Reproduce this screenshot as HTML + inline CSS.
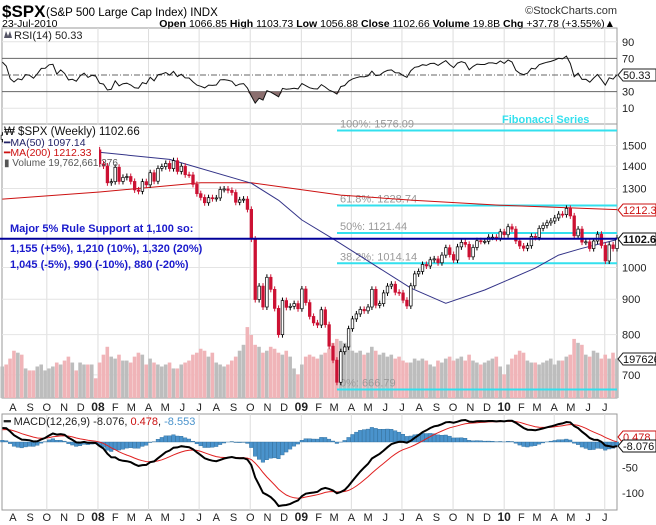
<!DOCTYPE html>
<html><head><meta charset="utf-8"><style>
body{margin:0;background:#fff;}
svg{display:block;font-family:"Liberation Sans",sans-serif;}
</style></head><body>
<svg id="c" width="656" height="525" viewBox="0 0 656 525" xmlns="http://www.w3.org/2000/svg">
<rect x="0" y="0" width="656" height="525" fill="#fff"/>
<g>
<text x="2" y="17" font-size="17" font-weight="bold">$SPX</text>
<text x="46" y="16" font-size="11.5">(S&amp;P 500 Large Cap Index) INDX</text>
<text x="617" y="14" font-size="11" text-anchor="end" fill="#333">©StockCharts.com</text>
<text x="2" y="27" font-size="10.5">23-Jul-2010</text>
<text x="615" y="27" font-size="10.5" text-anchor="end"><tspan font-weight="bold">Open</tspan> 1066.85 <tspan font-weight="bold">High</tspan> 1103.73 <tspan font-weight="bold">Low</tspan> 1056.88 <tspan font-weight="bold">Close</tspan> 1102.66 <tspan font-weight="bold">Volume</tspan> 19.8B <tspan font-weight="bold">Chg</tspan> +37.78 (+3.55%)▲</text>
</g>
<g id="grid"></g>
<g id="rsi"></g>
<g id="vol"></g>
<g id="main"></g>
<g id="macd"></g>
<g id="labels"></g>
</svg>
<script>
const warmupCloses=[1418,1409,1430,1431,1422,1448,1438,1456,1451,1407,1402,1387,1402,1420,1444,1452,1484,1494,1505,1522,1515,1536,1531,1507,1533,1502,1503,1531];
const closes=[1552,1534,1459,1433,1453,1445,1479,1474,1454,1484,1525,1527,1557,1561,1500,1535,1509,1453,1458,1440,1481,1504,
1467,1484,1478,
1411,1401,1325,1330,1395,1331,1349,1353,1331,1294,1288,1330,1316,1370,1332,1390,1398,1413,1389,1426,1376,1400,1361,1360,1318,1278,1262,1240,1261,1257,1260,1296,1298,1292,1283,1242,1252,1255,1213,1099,899,940,877,968,930,873,800,896,876,879,887,872,
931,890,850,832,826,869,827,770,735,683,756,768,816,843,857,870,866,877,930,882,887,919,940,946,921,919,897,880,941,979,987,1010,1005,1026,1029,1016,1042,1068,1044,1025,1071,1087,1080,1036,1069,1093,1091,1091,1106,1106,1102,1126,1115,
1145,1136,1092,1074,1066,1075,1109,1105,1139,1150,1160,1167,1179,1194,1192,1217,1187,1111,1136,1088,1089,1065,1092,1117,1076,1022,1078,1065,1103];
const volumes=[16,17,20,24,23,22,15,14,14,16,17,14,15,16,18,17,19,21,18,14,18,17,
17,17,10,
18,22,26,21,20,22,19,19,18,21,23,22,17,20,18,17,16,17,18,15,15,17,18,19,22,23,25,24,21,23,18,17,16,17,19,21,24,27,36,32,27,26,23,24,26,25,23,22,24,21,15,12,
17,21,22,21,20,22,23,25,28,30,29,28,27,24,23,24,22,23,26,24,22,23,21,22,20,21,19,18,18,20,19,20,19,17,16,19,18,20,21,19,20,21,19,22,19,18,17,18,19,20,21,16,12,
17,20,22,24,23,19,18,18,17,18,19,20,17,19,19,21,22,30,28,27,22,21,24,23,20,22,20,23,20];
const ma50Weeks=[22,43,64,71,77,85,105,114,124,137,143,149,158];
const ma50Values=[1472,1432,1323,1250,1171,1100,934,888,928,998,1042,1066,1097];
const ma200Weeks=[0,25,51,64,87,105,128,158];
const ma200Values=[1255,1285,1325,1325,1272,1251,1230,1212];
const fibPcts=["100%","61.8%","50%","38.2%","0%"];
const fibLevels=[1576.09,1228.74,1121.44,1014.14,666.79];
const priceTicks=[1500,1400,1300,1000,900,800,700];
const rsiTicks=[90,70,30,10];
const macdTicks=[-50,-100];
const monthLetters=["J","F","M","A","M","J","J","A","S","O","N","D"];

const NS="http://www.w3.org/2000/svg";
function mk(parent,tag,attrs,text){const e=document.createElementNS(NS,tag);for(const k in attrs)e.setAttribute(k,attrs[k]);if(text!==undefined)e.textContent=text;document.getElementById(parent).appendChild(e);return e;}
const PL=2,PR=617,N=closes.length;
const END=Date.UTC(2010,6,23);
function xw(i){return PR-(N-1-i)*3.89;}
function xDate(d){return PR-(END-d)/(7*864e5)*3.89;}
function yP(v){return 267.5-301*Math.log(v/1000);}
function yR(v){return 75-(v-50)*0.83;}
function yM(v){return 442-0.51*v;}
function yV(v){return 398-v*1.97;}

let e;
e=mk('grid','rect',{x:PL,y:28,width:PR-PL,height:96,fill:'none',stroke:'#999'});


e=mk('grid','rect',{x:PL,y:124,width:PR-PL,height:274,fill:'none',stroke:'#999'});


e=mk('grid','rect',{x:PL,y:414,width:PR-PL,height:96,fill:'none',stroke:'#999'});



for(let y=2007;y<=2010;y++)for(let m=0;m<12;m++){
  const d=Date.UTC(y,m,1);const x=xDate(d);
  if(x<PL||x>PR)continue;
  if(m%3===0){
    [[28,124],[124,398],[414,510]].forEach(r=>{
      e=mk('grid','line',{x1:x,x2:x,y1:r[0],y2:r[1],stroke:'#ddd'});
      
      
    });
  }
  const lbl=m===0?String(y).slice(2):monthLetters[m];
  [411,521].forEach(yy=>{
    e=mk('labels','text',{x:x,y:yy,'font-size':m===0?12:11,'font-weight':m===0?'bold':'normal','text-anchor':'middle',fill:'#222'},lbl);
    
    
  });
}

rsiTicks.forEach(t=>{
  if(t===70||t===30){e=mk('rsi','line',{x1:PL,x2:PR,y1:yR(t),y2:yR(t),stroke:'#666'});}
  else{e=mk('rsi','line',{x1:PL,x2:PR,y1:yR(t),y2:yR(t),stroke:'#e4e4e4'});}
  
  
  e=mk('labels','text',{x:622,y:yR(t)+4,'font-size':11,fill:'#222'},String(t));
  
  
});
e=mk('rsi','line',{x1:PL,x2:PR,y1:yR(50),y2:yR(50),stroke:'#666','stroke-dasharray':'6,2,1,2'});


const all=warmupCloses.concat(closes);
let ag=0,al=0;const rsi=[];
for(let i=1;i<all.length;i++){
  const ch=all[i]-all[i-1];const g=Math.max(ch,0),l=Math.max(-ch,0);
  if(i<=14){ag+=g/14;al+=l/14;}else{ag=(ag*13+g)/14;al=(al*13+l)/14;}
  rsi.push(al===0?100:100-100/(1+ag/al));
}
const rsiVals=rsi.slice(rsi.length-N);
let rp='';rsiVals.forEach((v,i)=>{rp+=(i?'L':'M')+xw(i).toFixed(1)+','+yR(v).toFixed(1);});
let fp='';
rsiVals.forEach((v,i)=>{fp+=(i?'L':'M')+xw(i).toFixed(1)+','+Math.max(yR(v),yR(30)).toFixed(1);});
fp+='L'+xw(N-1)+','+yR(30)+'L'+xw(0)+','+yR(30)+'Z';
e=mk('rsi','path',{d:fp,fill:'#8b6f6f',stroke:'none'});


e=mk('rsi','path',{d:rp,fill:'none',stroke:'#111','stroke-width':1});


e=mk('rsi','text',{x:14,y:39,'font-size':11,fill:'#222'},'RSI(14) 50.33');


e=mk('rsi','path',{d:'M4,38 L6,31 L8,36 L10,31 L12,38Z',fill:'#556'});



priceTicks.forEach(t=>{
  e=mk('grid','line',{x1:PL,x2:PR,y1:yP(t),y2:yP(t),stroke:'#e4e4e4'});
  
  
  e=mk('labels','text',{x:622,y:yP(t)+4,'font-size':11,fill:'#222'},String(t));
  
  
});

volumes.forEach((v,i)=>{
  const prev=i?closes[i-1]:warmupCloses[warmupCloses.length-1];
  const down=closes[i]<prev;
  e=mk('vol','rect',{x:xw(i)-1.9,y:yV(v),width:3.6,height:398-yV(v),fill:down?'#f0b4b8':'#bdbdbd'});
  
  
});

fibLevels.forEach((f,k)=>{
  e=mk('main','line',{x1:337,x2:PR,y1:yP(f),y2:yP(f),stroke:'#33e0ee','stroke-width':2});
  
  
  e=mk('main','text',{x:340,y:yP(f)-3,'font-size':11,fill:'#999'},fibPcts[k]+': '+f.toFixed(2));
  
  
});
e=mk('main','text',{x:502,y:123,'font-size':11,'font-weight':'bold',fill:'#33e0ee'},'Fibonacci Series');



function maPath(ws,vs){let p='';ws.forEach((w,k)=>{p+=(k?'L':'M')+xw(w).toFixed(1)+','+yP(vs[k]).toFixed(1);});return p;}
e=mk('main','path',{d:maPath(ma200Weeks,ma200Values),fill:'none',stroke:'#cc1111','stroke-width':1});


e=mk('main','path',{d:maPath(ma50Weeks,ma50Values),fill:'none',stroke:'#333388','stroke-width':1,'stroke-linejoin':'round'});



closes.forEach((c,i)=>{
  const o=i?closes[i-1]:warmupCloses[warmupCloses.length-1];
  const up=c>=o;const x=xw(i);
  const t=yP(Math.max(o,c)),b=yP(Math.min(o,c));
  const col=up?'#000':'#cc1133';
  e=mk('main','line',{x1:x,x2:x,y1:t-3,y2:b+3,stroke:col,'stroke-width':1});
  
  
  e=mk('main','rect',{x:x-1.3,y:t,width:2.6,height:Math.max(b-t,1),fill:up?'#fff':'#cc1133',stroke:col,'stroke-width':0.7});
  
  
});

e=mk('main','line',{x1:0,x2:PR,y1:yP(1100),y2:yP(1100),stroke:'#000099','stroke-width':2});


[['Major 5% Rule Support at 1,100 so:',232],['1,155 (+5%), 1,210 (10%), 1,320 (20%)',252],['1,045 (-5%), 990 (-10%), 880 (-20%)',268]].forEach(a=>{
  e=mk('main','text',{x:10,y:a[1],'font-size':11,'font-weight':'bold',fill:'#1a1acc'},a[0]);
  
  
});

e=mk('main','rect',{x:3,y:125,width:96,height:43,fill:'#fff'});


[['₩ $SPX (Weekly) 1102.66',135,'#111',11.5],['━MA(50) 1097.14',146,'#222266',10.5],['━MA(200) 1212.33',156,'#cc1111',10.5],['▮ Volume 19,762,661,376',166,'#555',10]].forEach(a=>{
  e=mk('main','text',{x:4,y:a[1],'font-size':a[3],fill:a[2]},a[0]);
  
  
});

let e12=warmupCloses[0],e26=warmupCloses[0],sig=0;const mac=[],sg=[];
all.forEach((c,i)=>{e12+= (c-e12)*2/13;e26+=(c-e26)*2/27;const m=e12-e26;if(i===0)sig=m;sig+=(m-sig)*0.2;mac.push(m);sg.push(sig);});
const macdVals=mac.slice(mac.length-N),sigVals=sg.slice(sg.length-N);
macdVals.forEach((m,i)=>{
  const h=m-sigVals[i];const y0=yM(0),y1=yM(h);
  e=mk('macd','rect',{x:xw(i)-1.9,y:Math.min(y0,y1),width:3.6,height:Math.abs(y1-y0),fill:'#4a93cc',stroke:'#2a6a9a','stroke-width':0.4});
  
  
});
let mp='',sp='';
macdVals.forEach((m,i)=>{mp+=(i?'L':'M')+xw(i).toFixed(1)+','+yM(m).toFixed(1);sp+=(i?'L':'M')+xw(i).toFixed(1)+','+yM(sigVals[i]).toFixed(1);});
e=mk('macd','path',{d:sp,fill:'none',stroke:'#e02020','stroke-width':1});


e=mk('macd','path',{d:mp,fill:'none',stroke:'#000','stroke-width':2});


macdTicks.forEach(t=>{
  e=mk('labels','text',{x:622,y:yM(t)+4,'font-size':11,fill:'#222'},String(t));
  
  
});
e=mk('macd','text',{x:4,y:425,'font-size':11,fill:'#222'});
e.innerHTML='<tspan font-weight="bold">━</tspan> MACD(12,26,9) -8.076, <tspan fill="#cc1111">0.478</tspan>, <tspan fill="#4a93cc">-8.553</tspan>';



function box(y,txt,stroke,bold,name){
  const g=mk('labels','g',{});
  
  
  const p=document.createElementNS(NS,'path');
  p.setAttribute('d','M618,'+y+' L623,'+(y-6)+' L656,'+(y-6)+' L656,'+(y+6)+' L623,'+(y+6)+'Z');
  p.setAttribute('fill','#fff');p.setAttribute('stroke',stroke);g.appendChild(p);
  const t=document.createElementNS(NS,'text');
  t.setAttribute('x',623);t.setAttribute('y',y+4);t.setAttribute('font-size',11);
  if(bold)t.setAttribute('font-weight','bold');
  t.setAttribute('fill',stroke==='#cc1111'?'#cc1111':'#111');
  t.textContent=txt;g.appendChild(t);
}
box(75,'50.33','#222',false,'rsi-value-box');
box(210,'1212.33','#cc1111',false,'ma200-value-box');
box(239,'1102.66','#111',true,'price-value-box');
box(359,'19762661376','#222',false,'volume-value-box');
box(437,'0.478','#cc1111',false,'macd-signal-value-box');
box(446,'-8.076','#111',false,'macd-value-box');
</script>
</body></html>
